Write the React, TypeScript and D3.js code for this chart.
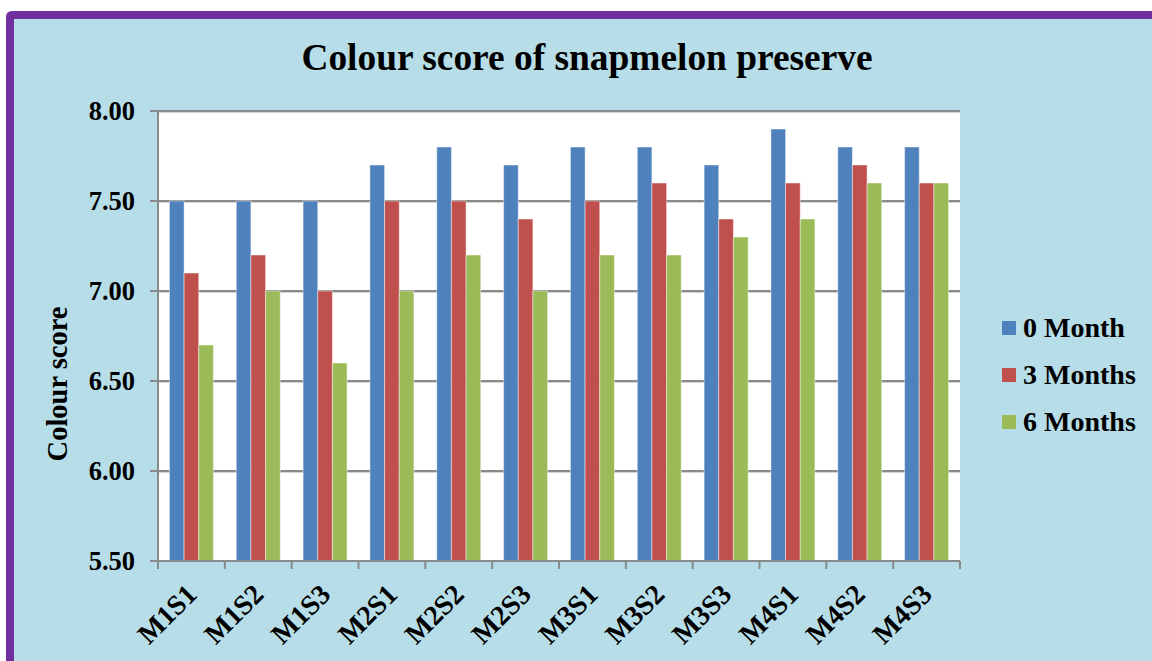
import React from "react";
import * as d3 from "d3";

const categories = ["M1S1","M1S2","M1S3","M2S1","M2S2","M2S3","M3S1","M3S2","M3S3","M4S1","M4S2","M4S3"];
const seriesNames = ["0 Month","3 Months","6 Months"];
const month0 = [7.5,7.5,7.5,7.7,7.8,7.7,7.8,7.8,7.7,7.9,7.8,7.8];
const month3 = [7.1,7.2,7.0,7.5,7.5,7.4,7.5,7.6,7.4,7.6,7.7,7.6];
const month6 = [6.7,7.0,6.6,7.0,7.2,7.0,7.2,7.2,7.3,7.4,7.6,7.6];
const yTicks = [5.5,6.0,6.5,7.0,7.5,8.0];
const colors = ["#4f81bd","#c0504d","#9bbb59"];

const W = 1152, H = 661;
const plot = { left: 158, right: 960, top: 111, bottom: 561 };
const font = "'Liberation Serif','Times New Roman',serif";

export default function App() {
  const series = [month0, month3, month6];
  const x0 = d3.scaleBand<string>().domain(categories).range([plot.left, plot.right]).padding(0);
  const bw = x0.bandwidth();
  const gap = bw * 0.171;
  const x1 = d3.scaleBand<string>().domain(seriesNames).range([gap, bw - gap]).padding(0);
  const y = d3.scaleLinear().domain([5.5, 8.0]).range([plot.bottom, plot.top]);

  return (
    <svg width={W} height={H} style={{ position: "absolute", left: 0, top: 0, display: "block" }} fontFamily={font}>
      <rect x={0} y={0} width={W} height={H} fill="#ffffff" />
      <path d={`M6,${H} L6,17 Q6,11 12,11 L${W},11 L${W},${H} Z`} fill="#7030a0" />
      <rect x={14} y={19} width={W - 14} height={H - 19} fill="#b7dde8" />
      <rect x={plot.left} y={plot.top} width={plot.right - plot.left} height={plot.bottom - plot.top} fill="#ffffff" />
      <text x={587} y={70} textAnchor="middle" fontSize={37.4} fontWeight="bold" fill="#000">Colour score of snapmelon preserve</text>
      {yTicks.map((t) => (
        <g key={t}>
          {t > 5.5 && (
            <>
              <line x1={plot.left} x2={plot.right} y1={y(t) + 1.5} y2={y(t) + 1.5} stroke="#d4d4d4" strokeWidth={1} />
              <line x1={plot.left} x2={plot.right} y1={y(t)} y2={y(t)} stroke="#8a8a8a" strokeWidth={2} />
            </>
          )}
          <line x1={150} x2={plot.left} y1={y(t)} y2={y(t)} stroke="#8a8a8a" strokeWidth={2} />
          <text x={135} y={y(t) + 9} textAnchor="end" fontSize={26.5} fontWeight="bold" fill="#000">{t.toFixed(2)}</text>
        </g>
      ))}
      {categories.map((c, i) => (
        <g key={c}>
          {series.map((s, j) => (
            <rect key={j} x={(x0(c) as number) + (x1(seriesNames[j]) as number)} y={y(s[i])} width={x1.bandwidth()} height={plot.bottom - y(s[i])} fill={colors[j]} stroke="rgba(255,255,255,0.45)" strokeWidth={1} />
          ))}
        </g>
      ))}
      <line x1={plot.left} x2={plot.left} y1={plot.top} y2={plot.bottom} stroke="#8a8a8a" strokeWidth={2} />
      <line x1={150} x2={plot.right} y1={plot.bottom} y2={plot.bottom} stroke="#8a8a8a" strokeWidth={2} />
      {d3.range(categories.length + 1).map((k) => {
        const xx = plot.left + k * bw;
        return <line key={k} x1={xx} x2={xx} y1={plot.bottom} y2={plot.bottom + 8} stroke="#8a8a8a" strokeWidth={2} />;
      })}
      {categories.map((c) => {
        const cx = (x0(c) as number) + bw / 2 + 7;
        const cy = 596;
        return (
          <text key={c} x={cx} y={cy} textAnchor="end" fontSize={28} fontWeight="bold" fill="#000" transform={`rotate(-45 ${cx} ${cy})`}>{c}</text>
        );
      })}
      <text x={0} y={0} transform="translate(67,384) rotate(-90)" textAnchor="middle" fontSize={28.5} fontWeight="bold" fill="#000">Colour score</text>
      {seriesNames.map((n, j) => (
        <g key={n} transform={`translate(1002, ${328 + j * 47})`}>
          <rect x={0} y={-7} width={14} height={14} fill={colors[j]} />
          <text x={21} y={9} fontSize={28} fontWeight="bold" fill="#000">{n}</text>
        </g>
      ))}
    </svg>
  );
}
